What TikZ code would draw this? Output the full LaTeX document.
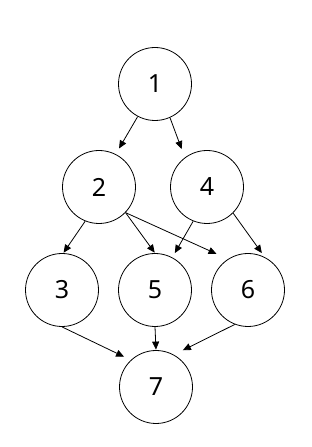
\documentclass[tikz,border=0pt]{standalone}
\usepackage{fontspec}
\setmainfont{Noto Sans}
\usetikzlibrary{arrows.meta}
\tikzset{
    taskbox/.style={draw=black, circle, line width=0.8pt, minimum size=73pt, inner sep=0pt, font=\fontsize{25}{30}\selectfont},
    deparrow/.style={-{Triangle[length=8pt, width=7pt]}, line width=0.8pt, draw=black}
}
\begin{document}
\begin{tikzpicture}[x=1pt,y=1pt]
    \useasboundingbox (0,0) rectangle (311,447);
    % Nodes
    \node[taskbox] (t1) at (155,363) {1};
    \node[taskbox] (t2) at (99,260)  {2};
    \node[taskbox] (t4) at (207,260) {4};
    \node[taskbox] (t3) at (62,157)  {3};
    \node[taskbox] (t5) at (155,157) {5};
    \node[taskbox] (t6) at (248,157) {6};
    \node[taskbox] (t7) at (156,60)  {7};

    % Dependencies (fixed connection points, as in the sketch)
    \draw[deparrow, shorten >=6.5pt] (t1.242) -- (t2.63);
    \draw[deparrow, shorten >=9pt]   (t1.294) -- (t4.127);
    \draw[deparrow, shorten >=0.5pt] (t2.248) -- (t3.88);
    \draw[deparrow, shorten >=0.5pt] (t2.316) -- (t5.north);
    \draw[deparrow, shorten >=12.5pt](t2.316) -- (t6.123);
    \draw[deparrow, shorten >=5pt]   (t4.248) -- (t5.62);
    \draw[deparrow, shorten >=5pt]   (t4.315) -- (t6.63);
    \draw[deparrow, shorten >=7.5pt] (t3.south) -- (t7.133);
    \draw[deparrow, shorten >=0.5pt] (t5.south) -- (t7.north);
    \draw[deparrow, shorten >=10pt]  (t6.249) -- (t7.61);
\end{tikzpicture}
\end{document}
